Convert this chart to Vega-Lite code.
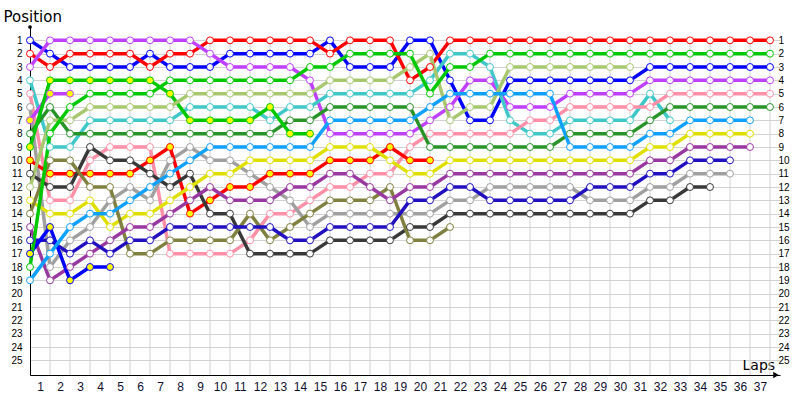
{
"$schema": "https://vega.github.io/schema/vega-lite/v6.json",
"width": 750, "height": 348,
"autosize": {"type": "none"},
"padding": {"left": 30, "top": 27, "right": 20, "bottom": 25},
"background": "white",
"config": {"view": {"stroke": null}, "font": "DejaVu Sans"},
"data": {"values": [
{"d":"BL","l":0,"p":1},{"d":"BL","l":1,"p":2},{"d":"BL","l":2,"p":3},{"d":"BL","l":3,"p":3},{"d":"BL","l":4,"p":3},{"d":"BL","l":5,"p":3},{"d":"BL","l":6,"p":2},{"d":"BL","l":7,"p":3},{"d":"BL","l":8,"p":3},{"d":"BL","l":9,"p":3},{"d":"BL","l":10,"p":2},{"d":"BL","l":11,"p":2},{"d":"BL","l":12,"p":2},{"d":"BL","l":13,"p":2},{"d":"BL","l":14,"p":2},{"d":"BL","l":15,"p":1},{"d":"BL","l":16,"p":3},{"d":"BL","l":17,"p":3},{"d":"BL","l":18,"p":3},{"d":"BL","l":19,"p":1},{"d":"BL","l":20,"p":1},{"d":"BL","l":21,"p":4},{"d":"BL","l":22,"p":7},{"d":"BL","l":23,"p":7},{"d":"BL","l":24,"p":4},{"d":"BL","l":25,"p":4},{"d":"BL","l":26,"p":4},{"d":"BL","l":27,"p":4},{"d":"BL","l":28,"p":4},{"d":"BL","l":29,"p":4},{"d":"BL","l":30,"p":4},{"d":"BL","l":31,"p":3},{"d":"BL","l":32,"p":3},{"d":"BL","l":33,"p":3},{"d":"BL","l":34,"p":3},{"d":"BL","l":35,"p":3},{"d":"BL","l":36,"p":3},{"d":"BL","l":37,"p":3},
{"d":"RD","l":0,"p":2},{"d":"RD","l":1,"p":3},{"d":"RD","l":2,"p":2},{"d":"RD","l":3,"p":2},{"d":"RD","l":4,"p":2},{"d":"RD","l":5,"p":2},{"d":"RD","l":6,"p":3},{"d":"RD","l":7,"p":2},{"d":"RD","l":8,"p":2},{"d":"RD","l":9,"p":1},{"d":"RD","l":10,"p":1},{"d":"RD","l":11,"p":1},{"d":"RD","l":12,"p":1},{"d":"RD","l":13,"p":1},{"d":"RD","l":14,"p":1},{"d":"RD","l":15,"p":2},{"d":"RD","l":16,"p":1},{"d":"RD","l":17,"p":1},{"d":"RD","l":18,"p":1},{"d":"RD","l":19,"p":4},{"d":"RD","l":20,"p":3},{"d":"RD","l":21,"p":1},{"d":"RD","l":22,"p":1},{"d":"RD","l":23,"p":1},{"d":"RD","l":24,"p":1},{"d":"RD","l":25,"p":1},{"d":"RD","l":26,"p":1},{"d":"RD","l":27,"p":1},{"d":"RD","l":28,"p":1},{"d":"RD","l":29,"p":1},{"d":"RD","l":30,"p":1},{"d":"RD","l":31,"p":1},{"d":"RD","l":32,"p":1},{"d":"RD","l":33,"p":1},{"d":"RD","l":34,"p":1},{"d":"RD","l":35,"p":1},{"d":"RD","l":36,"p":1},{"d":"RD","l":37,"p":1},
{"d":"VI","l":0,"p":3},{"d":"VI","l":1,"p":1},{"d":"VI","l":2,"p":1},{"d":"VI","l":3,"p":1},{"d":"VI","l":4,"p":1},{"d":"VI","l":5,"p":1},{"d":"VI","l":6,"p":1},{"d":"VI","l":7,"p":1},{"d":"VI","l":8,"p":1},{"d":"VI","l":9,"p":2},{"d":"VI","l":10,"p":3},{"d":"VI","l":11,"p":3},{"d":"VI","l":12,"p":3},{"d":"VI","l":13,"p":3},{"d":"VI","l":14,"p":4},{"d":"VI","l":15,"p":8},{"d":"VI","l":16,"p":8},{"d":"VI","l":17,"p":8},{"d":"VI","l":18,"p":8},{"d":"VI","l":19,"p":8},{"d":"VI","l":20,"p":7},{"d":"VI","l":21,"p":6},{"d":"VI","l":22,"p":4},{"d":"VI","l":23,"p":4},{"d":"VI","l":24,"p":6},{"d":"VI","l":25,"p":6},{"d":"VI","l":26,"p":6},{"d":"VI","l":27,"p":5},{"d":"VI","l":28,"p":5},{"d":"VI","l":29,"p":5},{"d":"VI","l":30,"p":5},{"d":"VI","l":31,"p":4},{"d":"VI","l":32,"p":4},{"d":"VI","l":33,"p":4},{"d":"VI","l":34,"p":4},{"d":"VI","l":35,"p":4},{"d":"VI","l":36,"p":4},{"d":"VI","l":37,"p":4},
{"d":"CY","l":0,"p":4},{"d":"CY","l":1,"p":9},{"d":"CY","l":2,"p":9},{"d":"CY","l":3,"p":7},{"d":"CY","l":4,"p":7},{"d":"CY","l":5,"p":7},{"d":"CY","l":6,"p":7},{"d":"CY","l":7,"p":7},{"d":"CY","l":8,"p":6},{"d":"CY","l":9,"p":6},{"d":"CY","l":10,"p":6},{"d":"CY","l":11,"p":6},{"d":"CY","l":12,"p":7},{"d":"CY","l":13,"p":6},{"d":"CY","l":14,"p":6},{"d":"CY","l":15,"p":5},{"d":"CY","l":16,"p":5},{"d":"CY","l":17,"p":5},{"d":"CY","l":18,"p":5},{"d":"CY","l":19,"p":5},{"d":"CY","l":20,"p":4},{"d":"CY","l":21,"p":2},{"d":"CY","l":22,"p":2},{"d":"CY","l":23,"p":3},{"d":"CY","l":24,"p":7},{"d":"CY","l":25,"p":8},{"d":"CY","l":26,"p":8},{"d":"CY","l":27,"p":7},{"d":"CY","l":28,"p":7},{"d":"CY","l":29,"p":7},{"d":"CY","l":30,"p":7},{"d":"CY","l":31,"p":5},{"d":"CY","l":32,"p":7},
{"d":"PK","l":0,"p":5},{"d":"PK","l":1,"p":13},{"d":"PK","l":2,"p":13},{"d":"PK","l":3,"p":10},{"d":"PK","l":4,"p":9},{"d":"PK","l":5,"p":9},{"d":"PK","l":6,"p":9},{"d":"PK","l":7,"p":17},{"d":"PK","l":8,"p":17},{"d":"PK","l":9,"p":17},{"d":"PK","l":10,"p":17},{"d":"PK","l":11,"p":16},{"d":"PK","l":12,"p":14},{"d":"PK","l":13,"p":14},{"d":"PK","l":14,"p":13},{"d":"PK","l":15,"p":12},{"d":"PK","l":16,"p":12},{"d":"PK","l":17,"p":11},{"d":"PK","l":18,"p":11},{"d":"PK","l":19,"p":9},{"d":"PK","l":20,"p":8},{"d":"PK","l":21,"p":8},{"d":"PK","l":22,"p":8},{"d":"PK","l":23,"p":8},{"d":"PK","l":24,"p":8},{"d":"PK","l":25,"p":7},{"d":"PK","l":26,"p":7},{"d":"PK","l":27,"p":6},{"d":"PK","l":28,"p":6},{"d":"PK","l":29,"p":6},{"d":"PK","l":30,"p":6},{"d":"PK","l":31,"p":6},{"d":"PK","l":32,"p":5},{"d":"PK","l":33,"p":5},{"d":"PK","l":34,"p":5},{"d":"PK","l":35,"p":5},{"d":"PK","l":36,"p":5},{"d":"PK","l":37,"p":5},
{"d":"GY","l":0,"p":6},{"d":"GY","l":1,"p":18},{"d":"GY","l":2,"p":16},{"d":"GY","l":3,"p":15},{"d":"GY","l":4,"p":13},{"d":"GY","l":5,"p":12},{"d":"GY","l":6,"p":13},{"d":"GY","l":7,"p":10},{"d":"GY","l":8,"p":9},{"d":"GY","l":9,"p":10},{"d":"GY","l":10,"p":10},{"d":"GY","l":11,"p":11},{"d":"GY","l":12,"p":12},{"d":"GY","l":13,"p":13},{"d":"GY","l":14,"p":15},{"d":"GY","l":15,"p":14},{"d":"GY","l":16,"p":14},{"d":"GY","l":17,"p":14},{"d":"GY","l":18,"p":14},{"d":"GY","l":19,"p":14},{"d":"GY","l":20,"p":14},{"d":"GY","l":21,"p":13},{"d":"GY","l":22,"p":13},{"d":"GY","l":23,"p":12},{"d":"GY","l":24,"p":12},{"d":"GY","l":25,"p":12},{"d":"GY","l":26,"p":12},{"d":"GY","l":27,"p":12},{"d":"GY","l":28,"p":13},{"d":"GY","l":29,"p":13},{"d":"GY","l":30,"p":13},{"d":"GY","l":31,"p":12},{"d":"GY","l":32,"p":12},{"d":"GY","l":33,"p":11},{"d":"GY","l":34,"p":11},{"d":"GY","l":35,"p":11},
{"d":"VI2","l":0,"p":7},{"d":"VI2","l":1,"p":5},{"d":"VI2","l":2,"p":5},
{"d":"DG","l":0,"p":8},{"d":"DG","l":1,"p":6},{"d":"DG","l":2,"p":8},{"d":"DG","l":3,"p":8},{"d":"DG","l":4,"p":8},{"d":"DG","l":5,"p":8},{"d":"DG","l":6,"p":8},{"d":"DG","l":7,"p":8},{"d":"DG","l":8,"p":8},{"d":"DG","l":9,"p":8},{"d":"DG","l":10,"p":8},{"d":"DG","l":11,"p":8},{"d":"DG","l":12,"p":8},{"d":"DG","l":13,"p":7},{"d":"DG","l":14,"p":7},{"d":"DG","l":15,"p":6},{"d":"DG","l":16,"p":6},{"d":"DG","l":17,"p":6},{"d":"DG","l":18,"p":6},{"d":"DG","l":19,"p":6},{"d":"DG","l":20,"p":9},{"d":"DG","l":21,"p":9},{"d":"DG","l":22,"p":9},{"d":"DG","l":23,"p":9},{"d":"DG","l":24,"p":9},{"d":"DG","l":25,"p":9},{"d":"DG","l":26,"p":9},{"d":"DG","l":27,"p":8},{"d":"DG","l":28,"p":8},{"d":"DG","l":29,"p":8},{"d":"DG","l":30,"p":8},{"d":"DG","l":31,"p":7},{"d":"DG","l":32,"p":6},{"d":"DG","l":33,"p":6},{"d":"DG","l":34,"p":6},{"d":"DG","l":35,"p":6},{"d":"DG","l":36,"p":6},{"d":"DG","l":37,"p":6},
{"d":"GR2","l":0,"p":9},{"d":"GR2","l":1,"p":4},{"d":"GR2","l":2,"p":4},{"d":"GR2","l":3,"p":4},{"d":"GR2","l":4,"p":4},{"d":"GR2","l":5,"p":4},{"d":"GR2","l":6,"p":4},{"d":"GR2","l":7,"p":5},{"d":"GR2","l":8,"p":7},{"d":"GR2","l":9,"p":7},{"d":"GR2","l":10,"p":7},{"d":"GR2","l":11,"p":7},{"d":"GR2","l":12,"p":6},{"d":"GR2","l":13,"p":8},{"d":"GR2","l":14,"p":8},
{"d":"RD2","l":0,"p":10},{"d":"RD2","l":1,"p":11},{"d":"RD2","l":2,"p":11},{"d":"RD2","l":3,"p":11},{"d":"RD2","l":4,"p":11},{"d":"RD2","l":5,"p":11},{"d":"RD2","l":6,"p":10},{"d":"RD2","l":7,"p":9},{"d":"RD2","l":8,"p":14},{"d":"RD2","l":9,"p":13},{"d":"RD2","l":10,"p":12},{"d":"RD2","l":11,"p":12},{"d":"RD2","l":12,"p":11},{"d":"RD2","l":13,"p":11},{"d":"RD2","l":14,"p":11},{"d":"RD2","l":15,"p":10},{"d":"RD2","l":16,"p":10},{"d":"RD2","l":17,"p":10},{"d":"RD2","l":18,"p":9},{"d":"RD2","l":19,"p":10},{"d":"RD2","l":20,"p":10},
{"d":"DK","l":0,"p":11},{"d":"DK","l":1,"p":12},{"d":"DK","l":2,"p":12},{"d":"DK","l":3,"p":9},{"d":"DK","l":4,"p":10},{"d":"DK","l":5,"p":10},{"d":"DK","l":6,"p":11},{"d":"DK","l":7,"p":12},{"d":"DK","l":8,"p":11},{"d":"DK","l":9,"p":14},{"d":"DK","l":10,"p":14},{"d":"DK","l":11,"p":17},{"d":"DK","l":12,"p":17},{"d":"DK","l":13,"p":17},{"d":"DK","l":14,"p":17},{"d":"DK","l":15,"p":16},{"d":"DK","l":16,"p":16},{"d":"DK","l":17,"p":16},{"d":"DK","l":18,"p":16},{"d":"DK","l":19,"p":15},{"d":"DK","l":20,"p":15},{"d":"DK","l":21,"p":14},{"d":"DK","l":22,"p":14},{"d":"DK","l":23,"p":14},{"d":"DK","l":24,"p":14},{"d":"DK","l":25,"p":14},{"d":"DK","l":26,"p":14},{"d":"DK","l":27,"p":14},{"d":"DK","l":28,"p":14},{"d":"DK","l":29,"p":14},{"d":"DK","l":30,"p":14},{"d":"DK","l":31,"p":13},{"d":"DK","l":32,"p":13},{"d":"DK","l":33,"p":12},{"d":"DK","l":34,"p":12},
{"d":"LG","l":0,"p":12},{"d":"LG","l":1,"p":7},{"d":"LG","l":2,"p":7},{"d":"LG","l":3,"p":6},{"d":"LG","l":4,"p":6},{"d":"LG","l":5,"p":6},{"d":"LG","l":6,"p":6},{"d":"LG","l":7,"p":6},{"d":"LG","l":8,"p":5},{"d":"LG","l":9,"p":5},{"d":"LG","l":10,"p":5},{"d":"LG","l":11,"p":5},{"d":"LG","l":12,"p":5},{"d":"LG","l":13,"p":5},{"d":"LG","l":14,"p":5},{"d":"LG","l":15,"p":4},{"d":"LG","l":16,"p":4},{"d":"LG","l":17,"p":4},{"d":"LG","l":18,"p":4},{"d":"LG","l":19,"p":3},{"d":"LG","l":20,"p":2},{"d":"LG","l":21,"p":7},{"d":"LG","l":22,"p":6},{"d":"LG","l":23,"p":6},{"d":"LG","l":24,"p":3},{"d":"LG","l":25,"p":3},{"d":"LG","l":26,"p":3},{"d":"LG","l":27,"p":3},{"d":"LG","l":28,"p":3},{"d":"LG","l":29,"p":3},{"d":"LG","l":30,"p":3},
{"d":"YE","l":0,"p":13},{"d":"YE","l":1,"p":14},{"d":"YE","l":2,"p":14},{"d":"YE","l":3,"p":13},{"d":"YE","l":4,"p":15},{"d":"YE","l":5,"p":14},{"d":"YE","l":6,"p":14},{"d":"YE","l":7,"p":13},{"d":"YE","l":8,"p":12},{"d":"YE","l":9,"p":11},{"d":"YE","l":10,"p":11},{"d":"YE","l":11,"p":10},{"d":"YE","l":12,"p":10},{"d":"YE","l":13,"p":10},{"d":"YE","l":14,"p":10},{"d":"YE","l":15,"p":9},{"d":"YE","l":16,"p":9},{"d":"YE","l":17,"p":9},{"d":"YE","l":18,"p":10},{"d":"YE","l":19,"p":11},{"d":"YE","l":20,"p":11},{"d":"YE","l":21,"p":10},{"d":"YE","l":22,"p":10},{"d":"YE","l":23,"p":10},{"d":"YE","l":24,"p":10},{"d":"YE","l":25,"p":10},{"d":"YE","l":26,"p":10},{"d":"YE","l":27,"p":10},{"d":"YE","l":28,"p":10},{"d":"YE","l":29,"p":10},{"d":"YE","l":30,"p":10},{"d":"YE","l":31,"p":9},{"d":"YE","l":32,"p":9},{"d":"YE","l":33,"p":8},{"d":"YE","l":34,"p":8},{"d":"YE","l":35,"p":8},{"d":"YE","l":36,"p":8},
{"d":"OL","l":0,"p":14},{"d":"OL","l":1,"p":10},{"d":"OL","l":2,"p":10},{"d":"OL","l":3,"p":12},{"d":"OL","l":4,"p":12},{"d":"OL","l":5,"p":17},{"d":"OL","l":6,"p":17},{"d":"OL","l":7,"p":16},{"d":"OL","l":8,"p":16},{"d":"OL","l":9,"p":16},{"d":"OL","l":10,"p":16},{"d":"OL","l":11,"p":14},{"d":"OL","l":12,"p":16},{"d":"OL","l":13,"p":15},{"d":"OL","l":14,"p":14},{"d":"OL","l":15,"p":13},{"d":"OL","l":16,"p":13},{"d":"OL","l":17,"p":13},{"d":"OL","l":18,"p":12},{"d":"OL","l":19,"p":16},{"d":"OL","l":20,"p":16},{"d":"OL","l":21,"p":15},
{"d":"PU","l":0,"p":15},{"d":"PU","l":1,"p":19},{"d":"PU","l":2,"p":18},{"d":"PU","l":3,"p":17},{"d":"PU","l":4,"p":16},{"d":"PU","l":5,"p":15},{"d":"PU","l":6,"p":15},{"d":"PU","l":7,"p":14},{"d":"PU","l":8,"p":13},{"d":"PU","l":9,"p":12},{"d":"PU","l":10,"p":13},{"d":"PU","l":11,"p":13},{"d":"PU","l":12,"p":13},{"d":"PU","l":13,"p":12},{"d":"PU","l":14,"p":12},{"d":"PU","l":15,"p":11},{"d":"PU","l":16,"p":11},{"d":"PU","l":17,"p":12},{"d":"PU","l":18,"p":13},{"d":"PU","l":19,"p":12},{"d":"PU","l":20,"p":12},{"d":"PU","l":21,"p":11},{"d":"PU","l":22,"p":11},{"d":"PU","l":23,"p":11},{"d":"PU","l":24,"p":11},{"d":"PU","l":25,"p":11},{"d":"PU","l":26,"p":11},{"d":"PU","l":27,"p":11},{"d":"PU","l":28,"p":11},{"d":"PU","l":29,"p":11},{"d":"PU","l":30,"p":11},{"d":"PU","l":31,"p":10},{"d":"PU","l":32,"p":10},{"d":"PU","l":33,"p":9},{"d":"PU","l":34,"p":9},{"d":"PU","l":35,"p":9},{"d":"PU","l":36,"p":9},
{"d":"DB","l":0,"p":16},{"d":"DB","l":1,"p":16},{"d":"DB","l":2,"p":17},{"d":"DB","l":3,"p":16},{"d":"DB","l":4,"p":17},{"d":"DB","l":5,"p":16},{"d":"DB","l":6,"p":16},{"d":"DB","l":7,"p":15},{"d":"DB","l":8,"p":15},{"d":"DB","l":9,"p":15},{"d":"DB","l":10,"p":15},{"d":"DB","l":11,"p":15},{"d":"DB","l":12,"p":15},{"d":"DB","l":13,"p":16},{"d":"DB","l":14,"p":16},{"d":"DB","l":15,"p":15},{"d":"DB","l":16,"p":15},{"d":"DB","l":17,"p":15},{"d":"DB","l":18,"p":15},{"d":"DB","l":19,"p":13},{"d":"DB","l":20,"p":13},{"d":"DB","l":21,"p":12},{"d":"DB","l":22,"p":12},{"d":"DB","l":23,"p":13},{"d":"DB","l":24,"p":13},{"d":"DB","l":25,"p":13},{"d":"DB","l":26,"p":13},{"d":"DB","l":27,"p":13},{"d":"DB","l":28,"p":12},{"d":"DB","l":29,"p":12},{"d":"DB","l":30,"p":12},{"d":"DB","l":31,"p":11},{"d":"DB","l":32,"p":11},{"d":"DB","l":33,"p":10},{"d":"DB","l":34,"p":10},{"d":"DB","l":35,"p":10},
{"d":"BL2","l":0,"p":17},{"d":"BL2","l":1,"p":15},{"d":"BL2","l":2,"p":19},{"d":"BL2","l":3,"p":18},{"d":"BL2","l":4,"p":18},
{"d":"GR","l":0,"p":18},{"d":"GR","l":1,"p":8},{"d":"GR","l":2,"p":6},{"d":"GR","l":3,"p":5},{"d":"GR","l":4,"p":5},{"d":"GR","l":5,"p":5},{"d":"GR","l":6,"p":5},{"d":"GR","l":7,"p":4},{"d":"GR","l":8,"p":4},{"d":"GR","l":9,"p":4},{"d":"GR","l":10,"p":4},{"d":"GR","l":11,"p":4},{"d":"GR","l":12,"p":4},{"d":"GR","l":13,"p":4},{"d":"GR","l":14,"p":3},{"d":"GR","l":15,"p":3},{"d":"GR","l":16,"p":2},{"d":"GR","l":17,"p":2},{"d":"GR","l":18,"p":2},{"d":"GR","l":19,"p":2},{"d":"GR","l":20,"p":5},{"d":"GR","l":21,"p":3},{"d":"GR","l":22,"p":3},{"d":"GR","l":23,"p":2},{"d":"GR","l":24,"p":2},{"d":"GR","l":25,"p":2},{"d":"GR","l":26,"p":2},{"d":"GR","l":27,"p":2},{"d":"GR","l":28,"p":2},{"d":"GR","l":29,"p":2},{"d":"GR","l":30,"p":2},{"d":"GR","l":31,"p":2},{"d":"GR","l":32,"p":2},{"d":"GR","l":33,"p":2},{"d":"GR","l":34,"p":2},{"d":"GR","l":35,"p":2},{"d":"GR","l":36,"p":2},{"d":"GR","l":37,"p":2},
{"d":"LB","l":0,"p":19},{"d":"LB","l":1,"p":17},{"d":"LB","l":2,"p":15},{"d":"LB","l":3,"p":14},{"d":"LB","l":4,"p":14},{"d":"LB","l":5,"p":13},{"d":"LB","l":6,"p":12},{"d":"LB","l":7,"p":11},{"d":"LB","l":8,"p":10},{"d":"LB","l":9,"p":9},{"d":"LB","l":10,"p":9},{"d":"LB","l":11,"p":9},{"d":"LB","l":12,"p":9},{"d":"LB","l":13,"p":9},{"d":"LB","l":14,"p":9},{"d":"LB","l":15,"p":7},{"d":"LB","l":16,"p":7},{"d":"LB","l":17,"p":7},{"d":"LB","l":18,"p":7},{"d":"LB","l":19,"p":7},{"d":"LB","l":20,"p":6},{"d":"LB","l":21,"p":5},{"d":"LB","l":22,"p":5},{"d":"LB","l":23,"p":5},{"d":"LB","l":24,"p":5},{"d":"LB","l":25,"p":5},{"d":"LB","l":26,"p":5},{"d":"LB","l":27,"p":9},{"d":"LB","l":28,"p":9},{"d":"LB","l":29,"p":9},{"d":"LB","l":30,"p":9},{"d":"LB","l":31,"p":8},{"d":"LB","l":32,"p":8},{"d":"LB","l":33,"p":7},{"d":"LB","l":34,"p":7},{"d":"LB","l":35,"p":7},{"d":"LB","l":36,"p":7}
]},
"layer": [
{
 "transform": [{"filter": "datum.l > 0"}, {"aggregate": [{"op": "count", "as": "n"}], "groupby": ["l"]}],
 "mark": {"type": "rule", "color": "#d2d2d2", "strokeWidth": 1},
 "encoding": {
  "x": {"field": "l", "type": "quantitative", "scale": {"domain": [0, 37.5], "nice": false, "zero": false}, "axis": null},
  "y": {"datum": 0.75, "type": "quantitative", "scale": {"domain": [0, 26.1], "nice": false, "zero": false, "reverse": true}, "axis": null},
  "y2": {"datum": 26.1}
 }
},
{
 "mark": {"type": "line", "strokeWidth": 3.5, "strokeJoin": "round", "strokeCap": "round"},
 "encoding": {
  "x": {"field": "l", "type": "quantitative", "scale": {"domain": [0, 37.5], "nice": false, "zero": false},
   "axis": {"values": [1,2,3,4,5,6,7,8,9,10,11,12,13,14,15,16,17,18,19,20,21,22,23,24,25,26,27,28,29,30,31,32,33,34,35,36,37],
    "grid": false, "ticks": false, "domainColor": "black", "domainWidth": 1,
    "labelOffset": -10, "labelPadding": 6, "labelFont": "Liberation Sans", "labelFontSize": 12, "labelColor": "#101030",
    "labelFlush": false, "labelOverlap": false,
    "title": "Laps", "titleX": 712, "titleY": -6, "titleAlign": "left", "titleBaseline": "alphabetic",
    "titleFont": "DejaVu Sans", "titleFontSize": 14, "titleFontWeight": "normal", "titleColor": "black"}},
  "y": {"field": "p", "type": "quantitative", "scale": {"domain": [0, 26.1], "nice": false, "zero": false, "reverse": true},
   "axis": {"values": [1,2,3,4,5,6,7,8,9,10,11,12,13,14,15,16,17,18,19,20,21,22,23,24,25],
    "grid": true, "gridColor": "#d2d2d2", "gridWidth": 1, "ticks": false, "domainColor": "black", "domainWidth": 1,
    "labelFont": "Liberation Sans", "labelFontSize": 10, "labelColor": "black", "labelPadding": 8,
    "labelFlush": false, "labelOverlap": false,
    "title": "Position", "titleAngle": 0, "titleX": -27, "titleY": -6, "titleAlign": "left", "titleBaseline": "alphabetic",
    "titleFont": "DejaVu Sans", "titleFontSize": 15, "titleFontWeight": "normal", "titleColor": "black"}},
  "stroke": {"field": "d", "type": "nominal", "legend": null,
   "scale": {"domain": ["BL","RD","VI","CY","PK","GY","VI2","DG","GR2","RD2","DK","LG","YE","OL","PU","DB","BL2","GR","LB"],
    "range": ["#0000ff","#ff0000","#c040ff","#40c8c8","#ff90a8","#a0a0a0","#c040ff","#289428","#00c800","#ff0000","#383838","#a8c870","#e0e000","#808040","#9838a0","#2010c0","#0000ff","#00c800","#10a0ff"]}},
  "order": {"field": "l", "type": "quantitative"}
 }
},
{
 "mark": {"type": "point", "shape": "circle", "filled": true, "size": 48, "strokeWidth": 1, "opacity": 1},
 "encoding": {
  "x": {"field": "l", "type": "quantitative", "scale": {"domain": [0, 37.5], "nice": false, "zero": false}, "axis": null},
  "y": {"field": "p", "type": "quantitative", "scale": {"domain": [0, 26.1], "nice": false, "zero": false, "reverse": true},
   "axis": {"orient": "right", "values": [1,2,3,4,5,6,7,8,9,10,11,12,13,14,15,16,17,18,19,20,21,22,23,24,25],
    "grid": false, "ticks": false, "domain": false, "offset": -3, "labelPadding": 1,
    "labelFont": "Liberation Sans", "labelFontSize": 10, "labelColor": "black", "labelFlush": false, "labelOverlap": false, "title": null}},
  "stroke": {"field": "d", "type": "nominal", "legend": null,
   "scale": {"domain": ["BL","RD","VI","CY","PK","GY","VI2","DG","GR2","RD2","DK","LG","YE","OL","PU","DB","BL2","GR","LB"],
    "range": ["#0000ff","#ff0000","#c040ff","#40c8c8","#ff90a8","#a0a0a0","#c040ff","#289428","#00c800","#ff0000","#383838","#a8c870","#e0e000","#808040","#9838a0","#2010c0","#0000ff","#00c800","#10a0ff"]}},
  "fill": {"field": "d", "type": "nominal", "legend": null,
   "scale": {"domain": ["BL","RD","VI","CY","PK","GY","VI2","DG","GR2","RD2","DK","LG","YE","OL","PU","DB","BL2","GR","LB"],
    "range": ["#ffffff","#ffffff","#ffffff","#ffffff","#ffffff","#ffffff","#ffff00","#ffffff","#ffff00","#ffff00","#ffffff","#ffffff","#ffffff","#ffffff","#ffffff","#ffffff","#ffff00","#ffffff","#ffffff"]}}
 }
},
{
 "data": {"values": [{"k": "arrow"}]},
 "mark": {"type": "point", "shape": "triangle-right", "filled": true, "color": "black", "size": 40, "opacity": 1},
 "encoding": {
  "x": {"datum": 37.3, "type": "quantitative", "scale": {"domain": [0, 37.5], "nice": false, "zero": false}, "axis": null},
  "y": {"datum": 26.1, "type": "quantitative", "scale": {"domain": [0, 26.1], "nice": false, "zero": false, "reverse": true}, "axis": null}
 }
},
{
 "data": {"values": [{"k": "top"}]},
 "mark": {"type": "point", "shape": "circle", "filled": true, "color": "black", "size": 14, "opacity": 1},
 "encoding": {
  "x": {"datum": 0, "type": "quantitative", "scale": {"domain": [0, 37.5], "nice": false, "zero": false}, "axis": null},
  "y": {"datum": 0, "type": "quantitative", "scale": {"domain": [0, 26.1], "nice": false, "zero": false, "reverse": true}, "axis": null}
 }
}
],
"resolve": {"axis": {"x": "independent", "y": "independent"}}
}
